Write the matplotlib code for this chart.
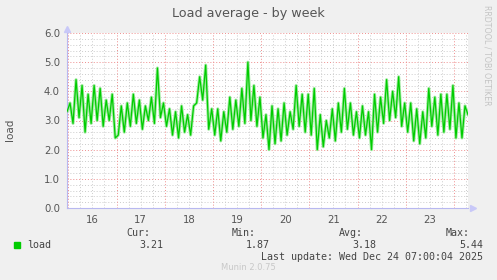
import numpy as np
import matplotlib
matplotlib.use("Agg")
import matplotlib.pyplot as plt
from matplotlib.patches import Rectangle

# load average, one point every 1.5 h from Dec 15 ~23:20 to Dec 24 07:00
load = [3.3,
        3.6, 2.9, 4.4, 3.1, 4.2, 2.6, 3.9, 2.9, 4.2, 3.0, 4.1, 2.8, 3.7, 3.0, 3.9, 2.4,   # 16
        2.5, 3.5, 2.6, 3.6, 2.8, 3.9, 2.9, 3.7, 2.7, 3.5, 3.0, 3.8, 2.9, 4.8, 3.1, 3.6,   # 17
        2.8, 3.4, 2.5, 3.3, 2.4, 3.5, 2.6, 3.2, 2.5, 3.5, 3.6, 4.5, 3.7, 4.9, 2.7, 3.4,   # 18
        2.5, 3.4, 2.3, 3.3, 2.6, 3.8, 2.7, 3.7, 2.8, 4.1, 2.9, 5.0, 3.0, 4.2, 2.8, 3.8,   # 19
        2.4, 3.2, 2.0, 3.5, 2.2, 3.4, 2.3, 3.6, 2.5, 3.3, 2.7, 4.2, 2.8, 3.9, 2.6, 3.9,   # 20
        2.5, 4.1, 2.0, 3.2, 2.1, 3.0, 2.4, 3.4, 2.3, 3.6, 2.6, 4.1, 2.7, 3.6, 2.5, 3.3,   # 21
        2.4, 3.5, 2.5, 3.3, 2.0, 3.9, 2.6, 3.8, 2.9, 4.4, 3.0, 4.0, 3.1, 4.5, 2.8, 3.6,   # 22
        2.6, 3.6, 2.3, 3.4, 2.2, 3.3, 2.4, 4.1, 2.8, 3.8, 2.5, 3.9, 2.6, 3.9, 2.7, 4.2,   # 23
        2.4, 3.6, 2.4, 3.5, 3.2]                                                          # 24
t_start = 15.973   # day of month (fractional)
t_end = 24 + 7 / 24
days = [16, 17, 18, 19, 20, 21, 22, 23]
stats = {"Cur:": "3.21", "Min:": "1.87", "Avg:": "3.18", "Max:": "5.44"}
last_update = "Last update: Wed Dec 24 07:00:04 2025"

t = np.linspace(t_start, t_end, len(load))

W, H = 497, 280
fig = plt.figure(figsize=(W / 100, H / 100), dpi=100, facecolor="#F0F0F0")
ax = fig.add_axes([67 / W, 72 / H, 401 / W, 175 / H])
ax.set_facecolor("white")

ax.set_xlim(t_start, t_end)
ax.set_ylim(0, 6)

# grid, munin style
dot = (0, (1, 2))
for y in np.arange(0.2, 6.01, 0.2):
    major = abs(y - round(y)) < 1e-6
    ax.axhline(y, color="#EE8E8E" if major else "#CCCCCC", lw=0.7, ls=dot, zorder=0)
for d in np.arange(16, 24.3, 0.25):
    if d <= t_start:
        continue
    major = abs(d - round(d)) < 1e-6
    ax.axvline(d, color="#EE8E8E" if major else "#CCCCCC", lw=0.7, ls=dot, zorder=0)

# data
ax.plot(t, load, color="#9EEA9E", lw=2.2, zorder=2)
ax.plot(t, load, color="#00CC00", lw=0.9, zorder=3)

ax.set_xticks([d + 0.5 for d in days])
ax.set_xticklabels([str(d) for d in days])
ax.set_yticks(range(7))
ax.set_yticklabels([f"{v:.1f}" for v in range(7)])
ax.tick_params(axis="both", length=0, labelsize=7.3, labelcolor="#555555")
ax.tick_params(axis="x", pad=5)
ax.tick_params(axis="y", pad=5)

for s in ["top", "right"]:
    ax.spines[s].set_visible(False)
for s in ["left", "bottom"]:
    ax.spines[s].set_color("#B8B8F0")
    ax.spines[s].set_linewidth(0.8)
ax.plot([0], [1.025], marker="^", color="#C8C8F8", ms=4, transform=ax.transAxes, clip_on=False)
ax.plot([1.012], [0], marker=">", color="#C8C8F8", ms=4, transform=ax.transAxes, clip_on=False)

fig.text(248 / W, 1 - 13 / H, "Load average - by week", ha="center", va="center",
         fontsize=9.2, color="#555555")
fig.text(10 / W, 1 - 130 / H, "load", rotation=90, ha="center", va="center",
         fontsize=7.5, color="#555555")
fig.text(487 / W, 1 - 5 / H, "RRDTOOL / TOBI OETIKER", rotation=270, ha="center", va="top",
         fontsize=5.7, color="#C4C4C4")

mono = "DejaVu Sans Mono"
fs = 7.2
head_x = [150, 256, 363, 470]
val_x = [163, 270, 376, 483]
for (k, v), hx, vx in zip(stats.items(), head_x, val_x):
    fig.text(hx / W, 1 - 233 / H, k, ha="right", va="center", family=mono, fontsize=fs, color="#444444")
    fig.text(vx / W, 1 - 245 / H, v, ha="right", va="center", family=mono, fontsize=fs, color="#444444")
fig.add_artist(Rectangle((14 / W, 1 - 248 / H), 6 / W, 6 / H, transform=fig.transFigure,
                         color="#00CC00"))
fig.text(27 / W, 1 - 245 / H, "load", ha="left", va="center", family=mono, fontsize=fs, color="#444444")
fig.text(483 / W, 1 - 257 / H, last_update, ha="right", va="center", family=mono,
         fontsize=fs, color="#444444")
fig.text(248 / W, 1 - 268 / H, "Munin 2.0.75", ha="center", va="center", fontsize=6,
         color="#C8C8C8")

fig.savefig("out.png", dpi=100, facecolor=fig.get_facecolor())
